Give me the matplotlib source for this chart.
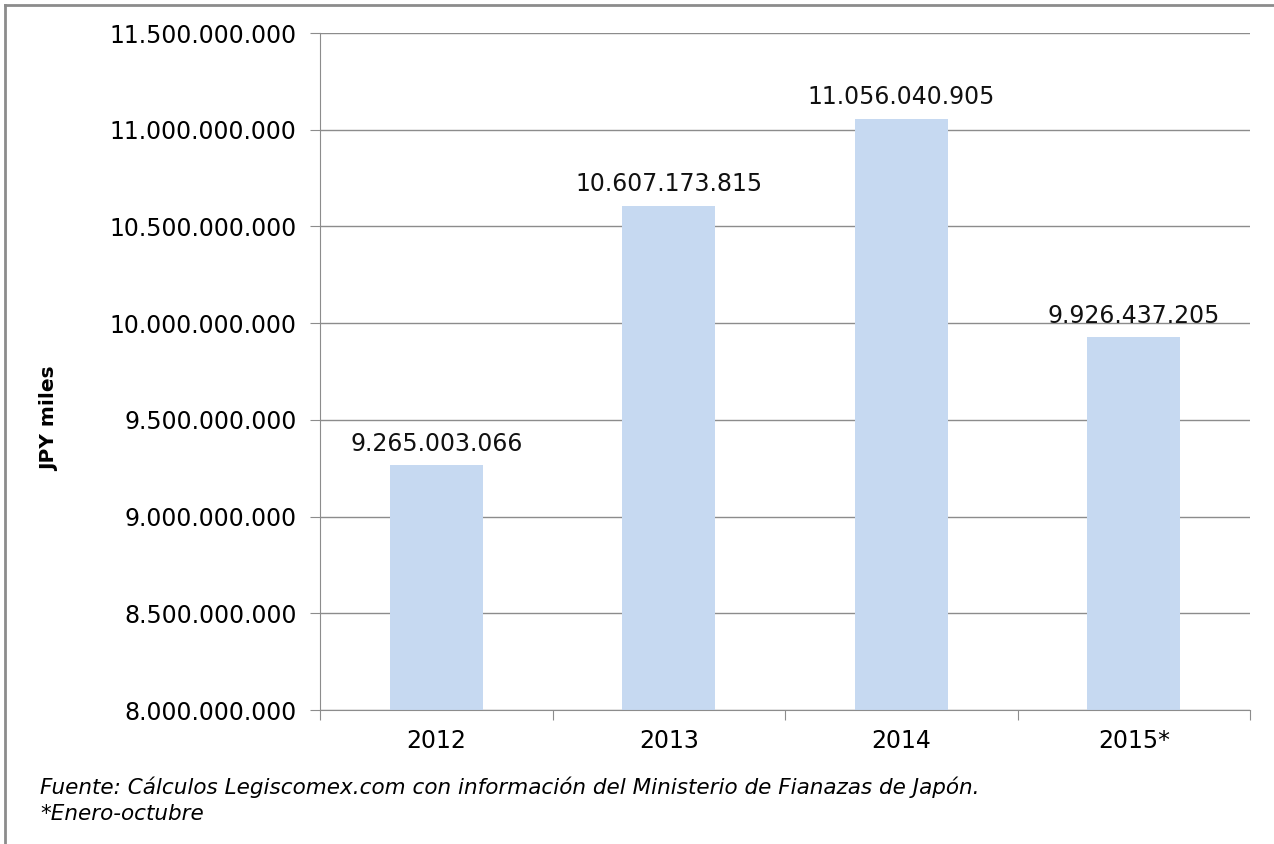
import matplotlib.pyplot as plt
from matplotlib.lines import Line2D
from matplotlib.ticker import FuncFormatter, FixedLocator
import numpy as np

years = ["2012", "2013", "2014", "2015*"]
values = [9265003066, 10607173815, 11056040905, 9926437205]
y_ticks = [8.0e9, 8.5e9, 9.0e9, 9.5e9, 10.0e9, 10.5e9, 11.0e9, 11.5e9]


def dots(v, pos=None):
    return f"{int(round(v)):,}".replace(",", ".")


plt.rcParams["font.family"] = ["DejaVu Sans"]

fig = plt.figure(figsize=(12.74, 8.44), dpi=100)
ax = fig.add_axes([320 / 1274, 1 - 710 / 844, 930 / 1274, 677 / 844])

x = np.arange(len(years))
ax.bar(x, values, width=0.4, color="#C6D9F1", zorder=2)
for xi, v in zip(x, values):
    ax.annotate(dots(v), (xi, v), xytext=(0, 7), textcoords="offset points",
                ha="center", va="bottom", fontsize=17, color="#111111")

ax.set_xlim(-0.5, len(years) - 0.5)
ax.set_ylim(y_ticks[0], y_ticks[-1])
ax.set_yticks(y_ticks)
ax.yaxis.set_major_formatter(FuncFormatter(dots))
ax.grid(axis="y", color="#8c8c8c", linewidth=1, zorder=0)

ax.xaxis.set_major_locator(FixedLocator(np.arange(-0.5, len(years), 1.0)))
ax.set_xticklabels([""] * (len(years) + 1))
ax.set_xticks(x, minor=True)
ax.set_xticklabels(years, minor=True)
ax.tick_params(axis="x", which="major", length=7, color="#8c8c8c")
ax.tick_params(axis="x", which="minor", length=0, pad=14, labelsize=17)
ax.tick_params(axis="y", length=7, color="#8c8c8c", labelsize=17, pad=10)

for side in ("top", "right"):
    ax.spines[side].set_visible(False)
for side in ("left", "bottom"):
    ax.spines[side].set_color("#8c8c8c")

fig.text(50 / 1274, 1 - 419 / 844, "JPY miles", rotation=90, fontsize=14.5,
         fontweight="bold", ha="center", va="center")

fig.text(40 / 1274, 1 - 787 / 844,
         "Fuente: Cálculos Legiscomex.com con información del Ministerio de Fianazas de Japón.",
         fontsize=15.5, style="italic", ha="left", va="center")
fig.text(40 / 1274, 1 - 814 / 844, "*Enero-octubre", fontsize=15.5, style="italic",
         ha="left", va="center")

# outer frame (top and left edges visible)
fig.add_artist(Line2D([5 / 1274, 5 / 1274], [0, 1 - 5 / 844], color="#8c8c8c",
                      linewidth=2, transform=fig.transFigure))
fig.add_artist(Line2D([5 / 1274, 1], [1 - 5 / 844, 1 - 5 / 844], color="#8c8c8c",
                      linewidth=2, transform=fig.transFigure))

fig.savefig("out.png", dpi=100)
